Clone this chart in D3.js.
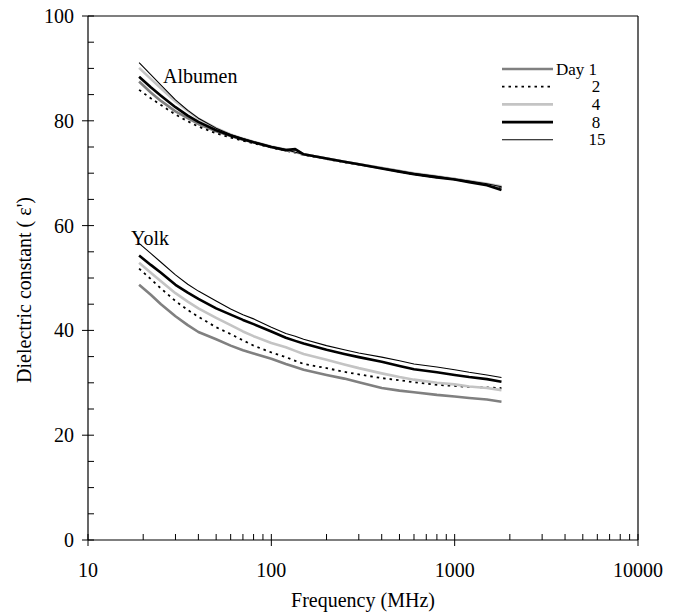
<!DOCTYPE html>
<html><head><meta charset="utf-8">
<script src="https://cdn.jsdelivr.net/npm/d3@7"></script>
<style>body{margin:0;background:#fff}svg{display:block}svg text{font-family:"Liberation Serif","Times New Roman",serif}</style>
</head><body>
<svg id="c" width="677" height="615"></svg>
<script>
const freq = [19,22,25,30,35,40,50,60,70,80,100,120,135,150,200,250,300,400,500,600,800,1000,1200,1500,1800];
const days = ["Day 1","2","4","8","15"];
// Albumen series
const albDay1  = [87.5,85.4,83.8,81.8,80.5,79.4,78.0,77.1,76.4,75.9,75.0,74.4,74.4,73.6,72.8,72.2,71.7,71.0,70.4,69.9,69.3,68.9,68.4,67.9,67.2];
const albDay2  = [85.9,84.3,83.0,81.2,79.9,78.9,77.6,76.8,76.2,75.7,74.9,74.3,73.9,73.5,72.7,72.1,71.6,70.9,70.3,69.8,69.2,68.8,68.3,67.8,67.3];
const albDay4  = [90.1,88.0,86.2,83.7,81.9,80.4,78.6,77.4,76.6,76.0,75.1,74.5,74.0,73.6,72.8,72.2,71.7,71.0,70.4,70.0,69.4,68.9,68.5,68.0,67.5];
const albDay8  = [88.4,86.4,84.8,82.6,81.0,79.8,78.2,77.2,76.5,75.9,75.0,74.4,74.6,73.6,72.8,72.2,71.7,70.9,70.3,69.8,69.2,68.8,68.3,67.7,66.8];
const albDay15 = [91.1,88.8,86.8,84.0,82.0,80.5,78.6,77.4,76.6,76.0,75.1,74.5,74.0,73.6,72.8,72.2,71.7,71.0,70.4,70.0,69.4,68.9,68.5,68.0,67.4];
// Yolk series
const yolkDay1  = [48.7,46.8,45.0,42.7,41.0,39.7,38.3,37.1,36.2,35.6,34.6,33.6,33.0,32.5,31.5,30.8,30.1,29.0,28.5,28.2,27.7,27.4,27.1,26.8,26.4];
const yolkDay2  = [51.8,49.8,48.0,45.6,43.9,42.6,40.6,39.3,38.1,37.1,35.8,34.9,34.2,33.6,32.8,32.1,31.6,30.9,30.5,30.1,29.6,29.4,29.2,29.1,29.0];
const yolkDay4  = [52.9,51.0,49.4,47.1,45.5,44.2,42.4,41.0,39.8,38.9,37.6,36.8,36.1,35.5,34.4,33.5,32.8,31.8,31.1,30.6,30.0,29.7,29.3,29.0,28.6];
const yolkDay8  = [54.3,52.5,51.0,48.7,47.2,46.0,44.2,43.0,42.0,41.2,39.8,38.6,38.0,37.5,36.3,35.5,34.9,34.0,33.2,32.6,32.0,31.5,31.1,30.7,30.2];
const yolkDay15 = [56.6,54.7,53.0,50.6,48.8,47.5,45.6,44.1,43.0,42.2,40.6,39.4,38.9,38.3,37.1,36.3,35.7,34.9,34.2,33.6,33.0,32.5,32.0,31.5,31.0];
const xTicks = [10,100,1000,10000];
const yTicks = [0,20,40,60,80,100];

const styles = [
  {stroke:"#808080", width:2.6, dash:null},
  {stroke:"#000", width:1.8, dash:"2.5,4"},
  {stroke:"#c4c4c4", width:2.6, dash:null},
  {stroke:"#000", width:2.6, dash:null},
  {stroke:"#000", width:1.1, dash:null}
];

const svg = d3.select("#c");
const L=88, R=638, T=16, B=540;
const x = d3.scaleLog().domain([10,10000]).range([L,R]);
const y = d3.scaleLinear().domain([0,100]).range([B,T]);

// frame
svg.append("line").attr("x1",L).attr("x2",R).attr("y1",T).attr("y2",T).attr("stroke","#000").attr("stroke-width",1.2);
svg.append("line").attr("x1",R).attr("x2",R).attr("y1",T).attr("y2",B).attr("stroke","#000").attr("stroke-width",1.2);

// y axis
const ya = svg.append("g").attr("transform",`translate(${L},0)`);
ya.append("line").attr("x1",0).attr("x2",0).attr("y1",T).attr("y2",B).attr("stroke","#000").attr("stroke-width",1.2);
d3.range(0,101,5).forEach(v=>{
  const major = v%20===0;
  ya.append("line").attr("x1",major?-6:0).attr("x2",6).attr("y1",y(v)).attr("y2",y(v)).attr("stroke","#000").attr("stroke-width",1);
});
yTicks.forEach(v=>{
  ya.append("text").attr("x",-14).attr("y",y(v)).attr("dy","0.35em").attr("text-anchor","end").attr("font-size",20).text(v);
});

// x axis
const xa = svg.append("g").attr("transform",`translate(0,${B})`);
xa.append("line").attr("x1",L).attr("x2",R).attr("y1",0).attr("y2",0).attr("stroke","#000").attr("stroke-width",1.2);
x.ticks().forEach(v=>{
  const major = xTicks.includes(v);
  xa.append("line").attr("x1",x(v)).attr("x2",x(v)).attr("y1",major?6:0).attr("y2",-6).attr("stroke","#000").attr("stroke-width",1);
});
xTicks.forEach(v=>{
  xa.append("text").attr("x",x(v)).attr("y",30).attr("dy","0.35em").attr("text-anchor","middle").attr("font-size",20).text(v);
});
svg.append("text").attr("x",(L+R)/2).attr("y",607).attr("text-anchor","middle").attr("font-size",20).text("Frequency (MHz)");
svg.append("text").attr("transform","translate(31,290) rotate(-90)").attr("text-anchor","middle").attr("font-size",20).text("Dielectric constant ( ε')");

// lines
const line = d3.line().x((d,i)=>x(freq[i])).y(d=>y(d));
const groups = [[albDay1,albDay2,albDay4,albDay8,albDay15],[yolkDay1,yolkDay2,yolkDay4,yolkDay8,yolkDay15]];
groups.forEach(g=>{
  g.forEach((s,i)=>{
    svg.append("path").attr("d",line(s)).attr("fill","none")
      .attr("stroke",styles[i].stroke).attr("stroke-width",styles[i].width)
      .attr("stroke-dasharray",styles[i].dash).attr("stroke-linejoin","round");
  });
});

svg.append("text").attr("x",163).attr("y",83).attr("font-size",20).text("Albumen");
svg.append("text").attr("x",131).attr("y",245).attr("font-size",20).text("Yolk");

// legend
const ly0=69, ldy=17.7;
days.forEach((d,i)=>{
  const yy = ly0 + i*ldy;
  svg.append("line").attr("x1",502).attr("x2",553).attr("y1",yy).attr("y2",yy)
    .attr("stroke",styles[i].stroke).attr("stroke-width",styles[i].width).attr("stroke-dasharray",styles[i].dash);
  if(i===0) svg.append("text").attr("x",556).attr("y",yy).attr("dy","0.33em").attr("font-size",17).text(d);
  else svg.append("text").attr("x",i===4?597:596).attr("y",yy).attr("dy","0.33em").attr("text-anchor","middle").attr("font-size",17).text(d);
});
</script>
</body></html>
